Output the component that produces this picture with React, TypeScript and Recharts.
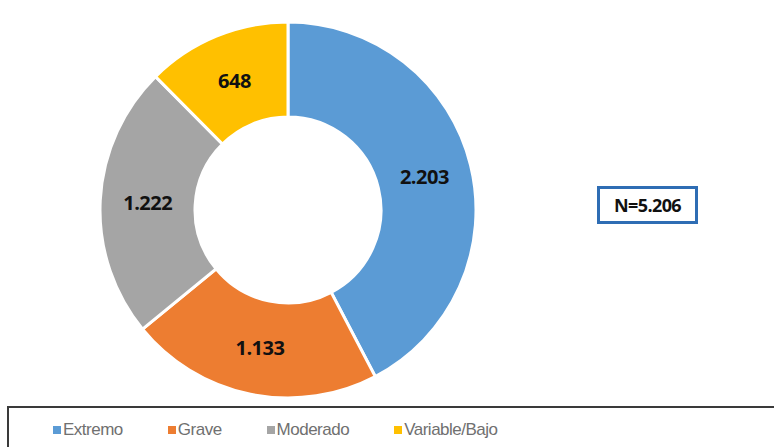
import React from 'react';
import { PieChart, Pie, Cell, Legend } from 'recharts';

const categories = ['Extremo', 'Grave', 'Moderado', 'Variable/Bajo'];
const values = [2203, 1133, 1222, 648];
const labels = ['2.203', '1.133', '1.222', '648'];
const colors = ['#5B9BD5', '#ED7D31', '#A5A5A5', '#FFC000'];
const totalLabel = 'N=5.206';

const data = categories.map((name, i) => ({ name, value: values[i], label: labels[i] }));

const RADIAN = Math.PI / 180;

const renderLabel = (props: any) => {
  const { cx, cy, midAngle, innerRadius, outerRadius, index } = props;
  const r = (innerRadius + outerRadius) / 2;
  const x = cx + r * Math.cos(-midAngle * RADIAN);
  const y = cy + r * Math.sin(-midAngle * RADIAN);
  return (
    <text
      x={x}
      y={y}
      textAnchor="middle"
      dominantBaseline="central"
      fill="#111"
      fontSize={20}
      fontWeight="bold"
      fontFamily="'Open Sans', sans-serif"
      letterSpacing={-0.5}
    >
      {data[index].label}
    </text>
  );
};

const renderLegend = () => (
  <div
    style={{
      boxSizing: 'border-box',
      width: 790,
      height: 48,
      border: '2px solid #3a3a3a',
      display: 'flex',
      alignItems: 'center',
      paddingLeft: 44,
      gap: 45,
      fontFamily: "'Liberation Sans', sans-serif",
      fontSize: 17,
      letterSpacing: -0.5,
      color: '#707070',
      background: '#fff',
    }}
  >
    {categories.map((c, i) => (
      <div key={c} style={{ display: 'flex', alignItems: 'center' }}>
        <span style={{ width: 8, height: 8, background: colors[i], marginRight: 2, display: 'inline-block' }} />
        <span>{c}</span>
      </div>
    ))}
  </div>
);

export default function App() {
  return (
    <div style={{ position: 'absolute', left: 0, top: 0, width: 774, height: 447, background: '#fff', overflow: 'hidden' }}>
      <PieChart width={774} height={447}>
        <Pie
          data={data}
          dataKey="value"
          cx={283}
          cy={205}
          innerRadius={93}
          outerRadius={188}
          startAngle={90}
          endAngle={-270}
          stroke="#fff"
          strokeWidth={3}
          label={renderLabel}
          labelLine={false}
          isAnimationActive={false}
        >
          {data.map((d, i) => (
            <Cell key={d.name} fill={colors[i]} />
          ))}
        </Pie>
        <Legend
          content={renderLegend}
          wrapperStyle={{ position: 'absolute', left: 7, top: 406, width: 790 }}
        />
      </PieChart>
      <div
        style={{
          position: 'absolute',
          left: 597,
          top: 186,
          width: 101,
          height: 38,
          boxSizing: 'border-box',
          border: '3px solid #2E6DB4',
          display: 'flex',
          alignItems: 'center',
          justifyContent: 'center',
          fontFamily: "'Open Sans', sans-serif",
          fontWeight: 'bold',
          fontSize: 18,
          letterSpacing: -0.6,
          color: '#111',
        }}
      >
        {totalLabel}
      </div>
    </div>
  );
}
